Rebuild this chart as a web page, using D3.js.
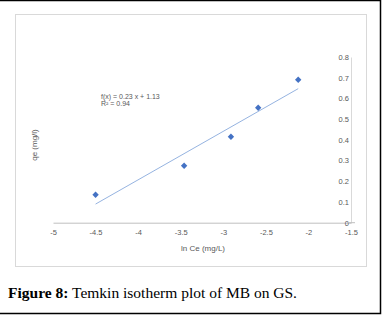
<!DOCTYPE html>
<html>
<head>
<meta charset="utf-8">
<script src="https://cdn.jsdelivr.net/npm/d3@7"></script>
<style>
  body { margin: 0; background: #fff; }
  svg { display: block; }
</style>
</head>
<body>
<svg id="chart" width="382" height="315"></svg>
<script>
// data
var lnCe = [-4.5, -3.46, -2.91, -2.59, -2.12]
var qe = [0.135, 0.275, 0.415, 0.555, 0.69]
var xTicks = [-5, -4.5, -4, -3.5, -3, -2.5, -2, -1.5]
var yTicks = [0, 0.1, 0.2, 0.3, 0.4, 0.5, 0.6, 0.7, 0.8]
var eqLines = ["f(x) = 0.23 x + 1.13", "R\u00b2 = 0.94"]
var xTitle = "ln Ce (mg/L)"
var yTitle = "qe (mg/l)"
var captionBold = "Figure 8:"
var captionText = " Temkin isotherm plot of MB on GS."

var svg = d3.select("#chart")
var labelFont = "'Liberation Sans', Arial, sans-serif"
var grey = "#595959"
var blue = "#4472c4"

// outer frame (top, right, bottom only)
svg.append("path")
    .attr("d", "M0,0.5 H380.5 V313.5 H0")
    .attr("fill", "none").attr("stroke", "#000").attr("stroke-width", 1.5)

// chart area box
svg.append("rect")
    .attr("x", 15.5).attr("y", 14.5)
    .attr("width", 351).attr("height", 252)
    .attr("fill", "#fff").attr("stroke", "#d9d9d9")

var x = d3.scaleLinear().domain([-5, -1.5]).range([53, 351])
var y = d3.scaleLinear().domain([0, 0.8]).range([222.7, 57])

// x axis
var gx = svg.append("g").attr("transform", "translate(0," + y(0) + ")")
    .call(d3.axisBottom(x).tickValues(xTicks).tickSize(0).tickPadding(7)
        .tickFormat(function(d) { return d }))
gx.select(".domain").attr("stroke", "#bfbfbf")
gx.selectAll("text").attr("fill", grey).style("font-family", labelFont).style("font-size", "7.5px")

// y axis on the right side (at x = -1.5)
var gy = svg.append("g").attr("transform", "translate(" + x(-1.5) + ",0)")
    .call(d3.axisLeft(y).tickValues(yTicks).tickSize(0).tickPadding(2)
        .tickFormat(function(d) { return d }))
gy.select(".domain").attr("stroke", "#d9d9d9")
gy.selectAll("text").attr("fill", grey).style("font-family", labelFont).style("font-size", "7.5px")

// little cross tick at the origin
svg.append("line")
    .attr("x1", x(-1.5) - 4).attr("x2", x(-1.5) + 4)
    .attr("y1", y(0)).attr("y2", y(0))
    .attr("stroke", "#bfbfbf")

// linear trendline (least squares over the points)
var mx = d3.mean(lnCe), my = d3.mean(qe)
var sxy = d3.sum(lnCe, function(v, i) { return (v - mx) * (qe[i] - my) })
var sxx = d3.sum(lnCe, function(v) { return (v - mx) * (v - mx) })
var slope = sxy / sxx
var icpt = my - slope * mx
var ext = d3.extent(lnCe)
svg.append("line")
    .attr("x1", x(ext[0])).attr("y1", y(slope * ext[0] + icpt))
    .attr("x2", x(ext[1])).attr("y2", y(slope * ext[1] + icpt))
    .attr("stroke", "#7aa0d8").attr("stroke-width", 0.8)

// points
svg.selectAll(".pt")
    .data(lnCe).enter().append("path")
    .attr("class", "pt")
    .attr("d", d3.symbol().type(d3.symbolDiamond2).size(26))
    .attr("transform", function(d, i) {
        return "translate(" + x(d) + "," + y(qe[i]) + ")"
    })
    .attr("fill", blue)

// equation label
svg.selectAll(".eq")
    .data(eqLines).enter().append("text")
    .attr("class", "eq")
    .attr("x", 101).attr("y", function(d, i) { return 98.5 + i * 7.5 })
    .attr("fill", grey)
    .style("font-family", labelFont).style("font-size", "7px")
    .text(function(d) { return d })

// axis titles
svg.append("text")
    .attr("x", 203).attr("y", 251)
    .attr("text-anchor", "middle").attr("fill", grey)
    .style("font-family", labelFont).style("font-size", "8px")
    .text(xTitle)

svg.append("text")
    .attr("transform", "translate(37,145) rotate(-90)")
    .attr("text-anchor", "middle").attr("fill", grey)
    .style("font-family", labelFont).style("font-size", "8px")
    .text(yTitle)

// caption
var cap = svg.append("text")
    .attr("x", 8).attr("y", 298)
    .attr("fill", "#000")
    .style("font-family", "'Liberation Serif', 'Times New Roman', serif")
    .style("font-size", "15.5px")
cap.append("tspan").attr("font-weight", "bold").text(captionBold)
cap.append("tspan").attr("xml:space", "preserve").text(captionText)
</script>
</body>
</html>
